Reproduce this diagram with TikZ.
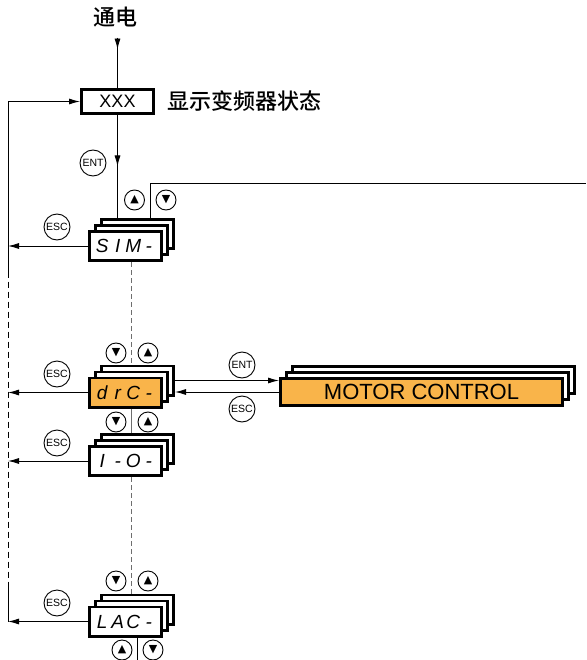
\documentclass[tikz,border=0pt]{standalone}
\usepackage{fontspec}
\setmainfont{Liberation Sans}
\newfontfamily\cjk{Noto Sans CJK SC Medium}
\newfontfamily\symfont{DejaVu Sans}
\usetikzlibrary{arrows.meta, positioning, calc, decorations.markings}
\definecolor{corange}{HTML}{F9B44A}
\definecolor{cgrey}{HTML}{6E6E6E}
\newcommand\segtxt[4]{\makebox[15.5pt]{#1}\makebox[15.5pt]{#2}\makebox[15.5pt]{#3}\makebox[15.5pt]{#4}}
\tikzset{
  every picture/.style={line width=0.9pt},
  disp/.style={draw, line width=2.6pt, fill=#1, minimum width=72.4pt, minimum height=29.4pt, inner sep=0pt,
    font=\itshape\fontsize{19}{19}\selectfont},
  disp/.default=white,
  btn/.style={circle, draw, line width=0.9pt, minimum size=20pt, inner sep=0pt, font=\symfont\fontsize{11}{11}\selectfont},
  key/.style={circle, draw, line width=0.9pt, minimum size=26pt, inner sep=0pt, font=\fontsize{10.5}{10.5}\selectfont},
  arr/.style={-{Latex[length=11pt, width=6pt]}},
  midarr/.style={postaction={decorate}, decoration={markings, mark=at position #1 with {\arrow{Latex[length=11pt, width=6pt]}}}},
  cjklabel/.style={font=\cjk\fontsize{22}{22}\selectfont, inner sep=0pt},
}
\begin{document}
\begin{tikzpicture}[x=1pt, y=-1pt]
  \useasboundingbox (0,0) rectangle (586,660);
  % power-up and status screen
  \node[cjklabel] (pwr) at (115,17) {通电};
  \node[draw, line width=2.6pt, minimum width=72.4pt, minimum height=24.4pt, inner sep=0pt,
    font=\fontsize{18}{18}\selectfont] (xxx) at (117.5,101.5) {XXX};
  \node[cjklabel, right=12pt of xxx] (state) {显示变频器状态};
  \draw[midarr=12pt] ([yshift=-10pt]pwr.south -| xxx) -- (xxx.north);
  % display stacks
  \foreach \n/\y in {sim/246, drc/392.5, io/461, lac/621.5} {
    \foreach \o/\k in {12/2, 6/1}
      \node[disp] (\n-\k) at ($(125.5,\y)+(\o,-\o)$) {};
  }
  \node[disp] (sim) at (125.5,246) {\segtxt{S}{I}{M}{-}};
  \node[disp=corange] (drc) at (125.5,392.5) {\segtxt{d}{r}{C}{-}};
  \node[disp] (io) at (125.5,461) {\segtxt{I}{-}{O}{-}};
  \node[disp] (lac) at (125.5,621.5) {\segtxt{L}{A}{C}{-}};
  % motor control stack
  \foreach \o/\k in {12/2, 6/1}
    \node[disp, minimum width=282.4pt, minimum height=27.4pt] (mc-\k) at ($(421.5,392)+(\o,-\o)$) {};
  \node[disp=corange, minimum width=282.4pt, minimum height=27.4pt, font=\fontsize{22}{22}\selectfont] (mc) at (421.5,392) {MOTOR CONTROL};
  % vertical links
  \draw[midarr=0.5] (xxx.south) -- (xxx.south |- sim-2.north);
  \coordinate (edge) at (586,183);
  \draw ($(sim-2.north)+(12.5,0)$) |- (edge);
  \draw[cgrey, line width=1.3pt, dash pattern=on 5pt off 3pt] (sim.south -| sim-1) -- (drc-2.north -| sim-1);
  \draw[cgrey, line width=1.3pt] (drc.south -| drc-1) -- (io-2.north -| drc-1);
  \draw[cgrey, line width=1.3pt, dash pattern=on 5pt off 3pt] (io.south -| io-1) -- (lac-2.north -| io-1);
  \coordinate (bot) at (137.5,660);
  \draw (lac.south -| bot) -- (bot);
  % return line on the left
  \coordinate (lt) at (8,101.5);
  \draw[arr] (lt) -- (xxx.west);
  \draw (lt) -- ++(0,170) coordinate (l1);
  \draw[dash pattern=on 6pt off 4pt] (l1) -- ++(0,313) coordinate (l2);
  \draw (l2) -- (l2 |- lac.west);
  \foreach \n in {sim, drc, io, lac}
    \draw[arr] (\n.west) -- (\n.west -| lt);
  % enter / escape to motor control
  \draw[arr] (drc-2.east) -- (drc-2.east -| mc.west);
  \draw[arr] (mc.west) -- (mc.west -| drc-2.east);
  % keys
  \node[key] (ent1) at (93,163) {ENT};
  \node[key] (esc1) at (57,227) {ESC};
  \node[key] (esc2) at (57,374) {ESC};
  \node[key] (esc3) at (57,443) {ESC};
  \node[key] (esc4) at (57,603) {ESC};
  \node[key] (ent2) at (242,365) {ENT};
  \node[key] (esc5) at (242,409) {ESC};
  \node[btn] (sim-up) at (134.5,200) {▲};
  \node[btn] (sim-dn) at (166,200) {▼};
  \node[btn] (drc-dn) at (116,353) {▼};
  \node[btn] (drc-up) at (148,353) {▲};
  \node[btn] (io-dn) at (116,422) {▼};
  \node[btn] (io-up) at (148,422) {▲};
  \node[btn] (lac-dn) at (116,581) {▼};
  \node[btn] (lac-up) at (148,581) {▲};
  \node[btn] (end-up) at (122,650) {▲};
  \node[btn] (end-dn) at (153,650) {▼};
\end{tikzpicture}
\end{document}
